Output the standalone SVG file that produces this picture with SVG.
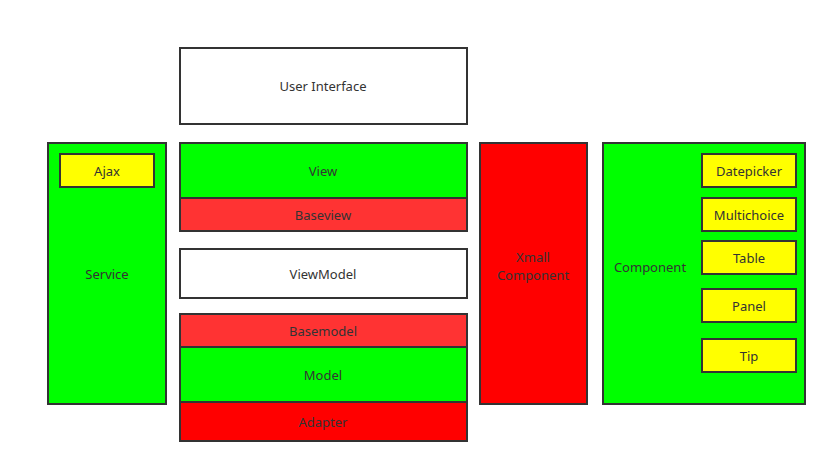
<svg xmlns="http://www.w3.org/2000/svg" width="837" height="474" viewBox="0 0 837 474">
<style>
rect{stroke:#333;stroke-width:2}
text{font-family:"Noto Sans","DejaVu Sans",sans-serif;font-size:13px;fill:#333;text-anchor:middle;dominant-baseline:central}
.w{fill:#fff}.g{fill:#00ff00}.r{fill:#ff0000}.lr{fill:#ff3333}.y{fill:#ffff00}
</style>
<rect x="0" y="0" width="837" height="474" fill="#fff" style="stroke:none"/>
<g id="service"><rect class="g" x="48" y="143" width="118" height="261"/><text x="107" y="274">Service</text></g>
<g id="ajax"><rect class="y" x="60" y="154" width="94" height="33"/><text x="107" y="171">Ajax</text></g>
<g id="ui"><rect class="w" x="180" y="48" width="287" height="76"/><text x="323" y="86">User Interface</text></g>
<g id="view"><rect class="g" x="180" y="143" width="287" height="55"/><text x="323" y="171">View</text></g>
<g id="baseview"><rect class="lr" x="180" y="198" width="287" height="33"/><text x="323" y="215">Baseview</text></g>
<g id="viewmodel"><rect class="w" x="180" y="249" width="287" height="49"/><text x="323" y="274">ViewModel</text></g>
<g id="basemodel"><rect class="lr" x="180" y="314" width="287" height="33"/><text x="323" y="331">Basemodel</text></g>
<g id="model"><rect class="g" x="180" y="347" width="287" height="55"/><text x="323" y="375">Model</text></g>
<g id="adapter"><rect class="r" x="180" y="402" width="287" height="39"/><text x="323" y="422">Adapter</text></g>
<g id="xmall"><rect class="r" x="480" y="143" width="107" height="261"/><text x="533" y="257">Xmall</text><text x="533" y="275">Component</text></g>
<g id="component"><rect class="g" x="603" y="143" width="202" height="261"/><text x="650" y="267">Component</text></g>
<g id="datepicker"><rect class="y" x="702" y="154" width="94" height="33"/><text x="749" y="171">Datepicker</text></g>
<g id="multichoice"><rect class="y" x="702" y="198" width="94" height="33"/><text x="749" y="215">Multichoice</text></g>
<g id="table"><rect class="y" x="702" y="241" width="94" height="33"/><text x="749" y="258">Table</text></g>
<g id="panel"><rect class="y" x="702" y="289" width="94" height="33"/><text x="749" y="306">Panel</text></g>
<g id="tip"><rect class="y" x="702" y="339" width="94" height="33"/><text x="749" y="356">Tip</text></g>
<g id="connectors"></g>
</svg>
